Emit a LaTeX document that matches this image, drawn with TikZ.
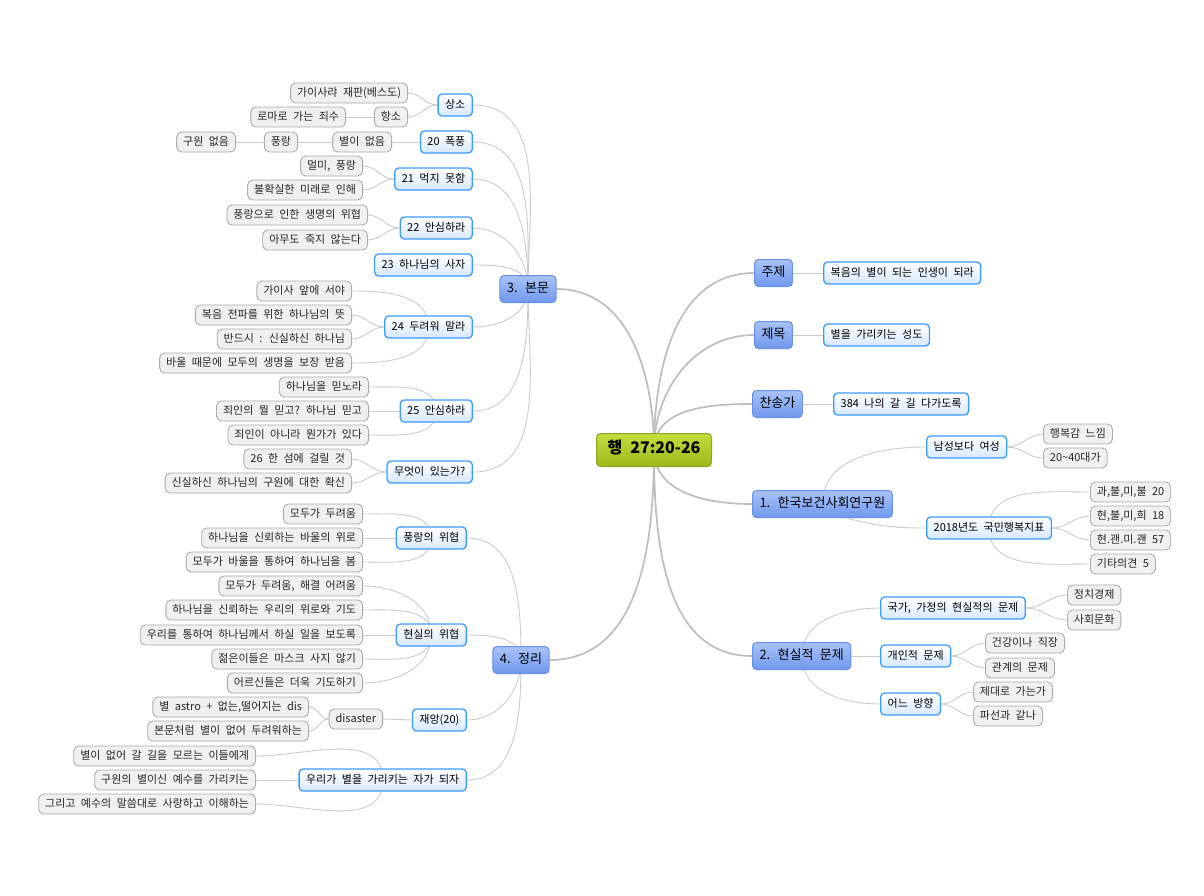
\documentclass[tikz,border=0pt]{standalone}
\usepackage{fontspec}
\setmainfont{Noto Sans CJK KR}[WordSpace=2.2]
\usetikzlibrary{backgrounds}
\definecolor{rootTop}{HTML}{C4DE3C}
\definecolor{rootBot}{HTML}{9CB61B}
\definecolor{rootLine}{HTML}{8CA524}
\definecolor{mainTop}{HTML}{A9C3F8}
\definecolor{mainBot}{HTML}{6F98EE}
\definecolor{mainLine}{HTML}{6690E6}
\definecolor{subLine}{HTML}{3A9BFF}
\definecolor{subBot}{HTML}{D6E9FF}
\definecolor{leafFill}{HTML}{F0F0F0}
\definecolor{leafLine}{HTML}{ABABAB}
\definecolor{linkGray}{HTML}{BDBDBD}
\definecolor{twigGray}{HTML}{CACACA}
\tikzset{
  rootbox/.style={draw=rootLine, line width=1pt, top color=rootTop, bottom color=rootBot, rounded corners=4pt, minimum height=33pt, inner xsep=11pt, text height=.85em, text depth=.15em, font=\fontsize{16}{18}\selectfont\bfseries},
  mainbox/.style={draw=mainLine, line width=1pt, top color=mainTop, bottom color=mainBot, rounded corners=4pt, minimum height=27pt, inner xsep=7pt, text height=.85em, text depth=.15em, font=\fontsize{13}{15}\selectfont},
  subbox/.style={draw=subLine, line width=1.3pt, top color=white, bottom color=subBot, rounded corners=4pt, minimum height=22pt, inner xsep=7pt, text height=.85em, text depth=.15em, font=\fontsize{11}{13}\selectfont},
  leafbox/.style={draw=leafLine, line width=0.9pt, fill=leafFill, rounded corners=5pt, minimum height=20pt, inner xsep=6.5pt, text height=.85em, text depth=.15em, text=black!85, font=\fontsize{11}{13}\selectfont},
  branch/.style={draw=linkGray, line width=1.7pt},
  twig/.style={draw=twigGray, line width=0.9pt}
}
\begin{document}
\begin{tikzpicture}[x=1pt, y=1pt]
	\useasboundingbox (0,0) rectangle (1204,-895);
	\node[rootbox] (haeng) at (654,-450) {행 27:20-26};
	\node[mainbox] (bonmun) at (528,-289) {3. 본문};
	\node[mainbox] (jungri) at (521,-660) {4. 정리};
	\node[mainbox, anchor=west] (juje) at (754,-273) {주제};
	\node[mainbox, anchor=west] (jemok) at (754,-335) {제목};
	\node[mainbox, anchor=west] (chansong) at (752,-404) {찬송가};
	\node[mainbox, anchor=west] (kihasa) at (752,-504) {1. 한국보건사회연구원};
	\node[mainbox, anchor=west] (hyunsil) at (752,-656) {2. 현실적 문제};
	\node[subbox, anchor=west] (bokeum) at (823,-273) {복음의 별이 되는 인생이 되라};
	\node[subbox, anchor=west] (seongdo) at (823,-335) {별을 가리키는 성도};
	\node[subbox, anchor=west] (hymn) at (833,-404) {384 나의 갈 길 다가도록};
	\node[subbox, anchor=west] (yeoseong) at (926,-447) {남성보다 여성};
	\node[subbox, anchor=west] (jipyo) at (926,-528) {2018년도 국민행복지표};
	\node[subbox, anchor=west] (gukga) at (880,-608) {국가, 가정의 현실적의 문제};
	\node[subbox, anchor=west] (gaein) at (880,-656) {개인적 문제};
	\node[subbox, anchor=west] (banghyang) at (880,-704) {어느 방향};
	\node[leafbox, anchor=west] (haengbok) at (1043,-434) {행복감 느낌};
	\node[leafbox, anchor=west] (sedae) at (1043,-458) {20\textasciitilde40대가};
	\node[leafbox, anchor=west] (jipyoA) at (1090,-492) {과,불,미,불 20};
	\node[leafbox, anchor=west] (jipyoB) at (1090,-516) {현,불,미,희 18};
	\node[leafbox, anchor=west] (jipyoC) at (1090,-540) {현.괜.미.괜 57};
	\node[leafbox, anchor=west] (jipyoD) at (1090,-564) {기타의견 5};
	\node[leafbox, anchor=west] (jeongchi) at (1067,-595) {정치경제};
	\node[leafbox, anchor=west] (sahoe) at (1067,-620) {사회문화};
	\node[leafbox, anchor=west] (geongang) at (985,-643) {건강이나 직장};
	\node[leafbox, anchor=west] (gwangye) at (985,-668) {관계의 문제};
	\node[leafbox, anchor=west] (jedaero) at (973,-692) {제대로 가는가};
	\node[leafbox, anchor=west] (pason) at (973,-716) {파선과 같나};
	\node[subbox, anchor=east] (sangso) at (473,-105) {상소};
	\node[subbox, anchor=east] (pokpung) at (473,-142) {20 폭풍};
	\node[subbox, anchor=east] (meokji) at (473,-179) {21 먹지 못함};
	\node[subbox, anchor=east] (ansimA) at (473,-228) {22 안심하라};
	\node[subbox, anchor=east] (saja) at (473,-265) {23 하나님의 사자};
	\node[subbox, anchor=east] (duryeo) at (473,-327) {24 두려워 말라};
	\node[subbox, anchor=east] (ansimB) at (473,-411) {25 안심하라};
	\node[subbox, anchor=east] (mueot) at (473,-472) {무엇이 있는가?};
	\node[subbox, anchor=east] (wihyeopA) at (467,-538) {풍랑의 위협};
	\node[subbox, anchor=east] (wihyeopB) at (467,-635) {현실의 위협};
	\node[subbox, anchor=east] (jaeang) at (467,-720) {재앙(20)};
	\node[subbox, anchor=east] (garikim) at (467,-780) {우리가 별을 가리키는 자가 되자};
	\node[leafbox, anchor=east] (gaisarya) at (408,-93) {가이사랴 재판(베스도)};
	\node[leafbox, anchor=east] (hangso) at (408,-117) {항소};
	\node[leafbox, anchor=east] (roma) at (346,-117) {로마로 가는 죄수};
	\node[leafbox, anchor=east] (byeolEops) at (392,-142) {별이 없음};
	\node[leafbox, anchor=east] (pungrang) at (298,-142) {풍랑};
	\node[leafbox, anchor=east] (guwonEops) at (236,-142) {구원 없음};
	\node[leafbox, anchor=east] (meolmi) at (363,-166) {멀미, 풍랑};
	\node[leafbox, anchor=east] (bulhwak) at (363,-190) {불확실한 미래로 인해};
	\node[leafbox, anchor=east] (saengmyeong) at (368,-215) {풍랑으로 인한 생명의 위협};
	\node[leafbox, anchor=east] (amudo) at (368,-240) {아무도 죽지 않는다};
	\node[leafbox, anchor=east] (gaisa) at (352,-291) {가이사 앞에 서야};
	\node[leafbox, anchor=east] (jeonpa) at (352,-315) {복음 전파를 위한 하나님의 뜻};
	\node[leafbox, anchor=east] (bandeusi) at (352,-339) {반드시 : 신실하신 하나님};
	\node[leafbox, anchor=east] (bojang) at (352,-363) {바울 때문에 모두의 생명을 보장 받음};
	\node[leafbox, anchor=east] (minnora) at (369,-387) {하나님을 믿노라};
	\node[leafbox, anchor=east] (mwol) at (369,-411) {죄인의 뭘 믿고? 하나님 믿고};
	\node[leafbox, anchor=east] (mwonga) at (369,-435) {죄인이 아니라 뭔가가 있다};
	\node[leafbox, anchor=east] (seom) at (352,-459) {26 한 섬에 걸릴 것};
	\node[leafbox, anchor=east] (hwaksin) at (352,-483) {신실하신 하나님의 구원에 대한 확신};
	\node[leafbox, anchor=east] (duryeoum) at (363,-514) {모두가 두려움};
	\node[leafbox, anchor=east] (wiro) at (363,-538) {하나님을 신뢰하는 바울의 위로};
	\node[leafbox, anchor=east] (bom) at (363,-562) {모두가 바울을 통하여 하나님을 봄};
	\node[leafbox, anchor=east] (haegyeol) at (363,-586) {모두가 두려움, 해결 어려움};
	\node[leafbox, anchor=east] (gido) at (363,-610) {하나님을 신뢰하는 우리의 위로와 기도};
	\node[leafbox, anchor=east] (hasil) at (363,-635) {우리를 통하여 하나님께서 하실 일을 보도록};
	\node[leafbox, anchor=east] (mask) at (363,-659) {젊은이들은 마스크 사지 않기};
	\node[leafbox, anchor=east] (eoreusin) at (363,-683) {어르신들은 더욱 기도하기};
	\node[leafbox, anchor=east] (disaster) at (383,-719) {disaster};
	\node[leafbox, anchor=east] (astro) at (309,-707) {별 astro + 없는,떨어지는 dis};
	\node[leafbox, anchor=east] (cheoreom) at (309,-731) {본문처럼 별이 없어 두려워하는};
	\node[leafbox, anchor=east] (gil) at (256,-756) {별이 없어 갈 길을 모르는 이들에게};
	\node[leafbox, anchor=east] (yesu) at (256,-780) {구원의 별이신 예수를 가리키는};
	\node[leafbox, anchor=east] (sarang) at (256,-804) {그리고 예수의 말씀대로 사랑하고 이해하는};
	\begin{scope}[on background layer]
	\draw[branch] (bonmun.east) to[out=0,in=90] (haeng.center);
	\draw[branch] (jungri.east) to[out=0,in=-90] (haeng.center);
	\draw[branch] (haeng.center) to[out=90,in=180] (juje.west);
	\draw[branch] (haeng.center) to[out=90,in=180] (jemok.west);
	\draw[branch] (haeng.center) to[out=90,in=180] (chansong.west);
	\draw[branch] (haeng.center) to[out=-90,in=180] (kihasa.west);
	\draw[branch] (haeng.center) to[out=-90,in=180] (hyunsil.west);
	\draw[twig] (juje.east) -- (bokeum.west);
	\draw[twig] (jemok.east) -- (seongdo.west);
	\draw[twig] (chansong.east) -- (hymn.west);
	\draw[twig] (kihasa.center) to[out=90,in=180] (yeoseong.west);
	\draw[twig] (kihasa.-30) to[out=-15,in=180] (jipyo.west);
	\draw[twig] (yeoseong.east) to[out=0,in=180] (haengbok.west);
	\draw[twig] (yeoseong.east) to[out=0,in=180] (sedae.west);
	\draw[twig] (jipyo.center) to[out=90,in=180] (jipyoA.west);
	\draw[twig] (jipyo.east) to[out=0,in=180] (jipyoB.west);
	\draw[twig] (jipyo.east) to[out=0,in=180] (jipyoC.west);
	\draw[twig] (jipyo.center) to[out=-90,in=180] (jipyoD.west);
	\draw[twig] (hyunsil.center) to[out=90,in=180] (gukga.west);
	\draw[twig] (hyunsil.east) -- (gaein.west);
	\draw[twig] (hyunsil.center) to[out=-90,in=180] (banghyang.west);
	\draw[twig] (gukga.east) to[out=0,in=180] (jeongchi.west);
	\draw[twig] (gukga.east) to[out=0,in=180] (sahoe.west);
	\draw[twig] (gaein.east) to[out=0,in=180] (geongang.west);
	\draw[twig] (gaein.east) to[out=0,in=180] (gwangye.west);
	\draw[twig] (banghyang.east) to[out=0,in=180] (jedaero.west);
	\draw[twig] (banghyang.east) to[out=0,in=180] (pason.west);
	\draw[twig] (sangso.east) to[out=0,in=90] (bonmun.center);
	\draw[twig] (pokpung.east) to[out=0,in=90] (bonmun.center);
	\draw[twig] (meokji.east) to[out=0,in=90] (bonmun.center);
	\draw[twig] (ansimA.east) to[out=0,in=90] (bonmun.center);
	\draw[twig] (saja.east) to[out=0,in=90] (bonmun.center);
	\draw[twig] (duryeo.east) to[out=0,in=-90] (bonmun.center);
	\draw[twig] (ansimB.east) to[out=0,in=-90] (bonmun.center);
	\draw[twig] (mueot.east) to[out=0,in=-90] (bonmun.center);
	\draw[twig] (gaisarya.east) to[out=0,in=180] (sangso.west);
	\draw[twig] (hangso.east) to[out=0,in=180] (sangso.west);
	\draw[twig] (roma.east) -- (hangso.west);
	\draw[twig] (byeolEops.east) -- (pokpung.west);
	\draw[twig] (pungrang.east) -- (byeolEops.west);
	\draw[twig] (guwonEops.east) -- (pungrang.west);
	\draw[twig] (meolmi.east) to[out=0,in=180] (meokji.west);
	\draw[twig] (bulhwak.east) to[out=0,in=180] (meokji.west);
	\draw[twig] (saengmyeong.east) to[out=0,in=180] (ansimA.west);
	\draw[twig] (amudo.east) to[out=0,in=180] (ansimA.west);
	\draw[twig] (gaisa.east) to[out=0,in=90] (duryeo.center);
	\draw[twig] (jeonpa.east) to[out=0,in=180] (duryeo.west);
	\draw[twig] (bandeusi.east) to[out=0,in=180] (duryeo.west);
	\draw[twig] (bojang.east) to[out=0,in=-90] (duryeo.center);
	\draw[twig] (minnora.east) to[out=0,in=90] (ansimB.center);
	\draw[twig] (mwol.east) -- (ansimB.west);
	\draw[twig] (mwonga.east) to[out=0,in=-90] (ansimB.center);
	\draw[twig] (seom.east) to[out=0,in=180] (mueot.west);
	\draw[twig] (hwaksin.east) to[out=0,in=180] (mueot.west);
	\draw[twig] (wihyeopA.east) to[out=0,in=90] (jungri.center);
	\draw[twig] (wihyeopB.east) to[out=0,in=90] (jungri.center);
	\draw[twig] (jaeang.east) to[out=0,in=-90] (jungri.center);
	\draw[twig] (garikim.east) to[out=0,in=-90] (jungri.center);
	\draw[twig] (duryeoum.east) to[out=0,in=90] (wihyeopA.center);
	\draw[twig] (wiro.east) -- (wihyeopA.west);
	\draw[twig] (bom.east) to[out=0,in=-90] (wihyeopA.center);
	\draw[twig] (haegyeol.east) to[out=0,in=90] (wihyeopB.center);
	\draw[twig] (gido.east) to[out=0,in=90] (wihyeopB.center);
	\draw[twig] (hasil.east) -- (wihyeopB.west);
	\draw[twig] (mask.east) to[out=0,in=-90] (wihyeopB.center);
	\draw[twig] (eoreusin.east) to[out=0,in=-90] (wihyeopB.center);
	\draw[twig] (disaster.east) -- (jaeang.west);
	\draw[twig] (astro.east) to[out=0,in=180] (disaster.west);
	\draw[twig] (cheoreom.east) to[out=0,in=180] (disaster.west);
	\draw[twig] (gil.east) to[out=0,in=90] (garikim.center);
	\draw[twig] (yesu.east) -- (garikim.west);
	\draw[twig] (sarang.east) to[out=0,in=-90] (garikim.center);
	\end{scope}
\end{tikzpicture}
\end{document}
